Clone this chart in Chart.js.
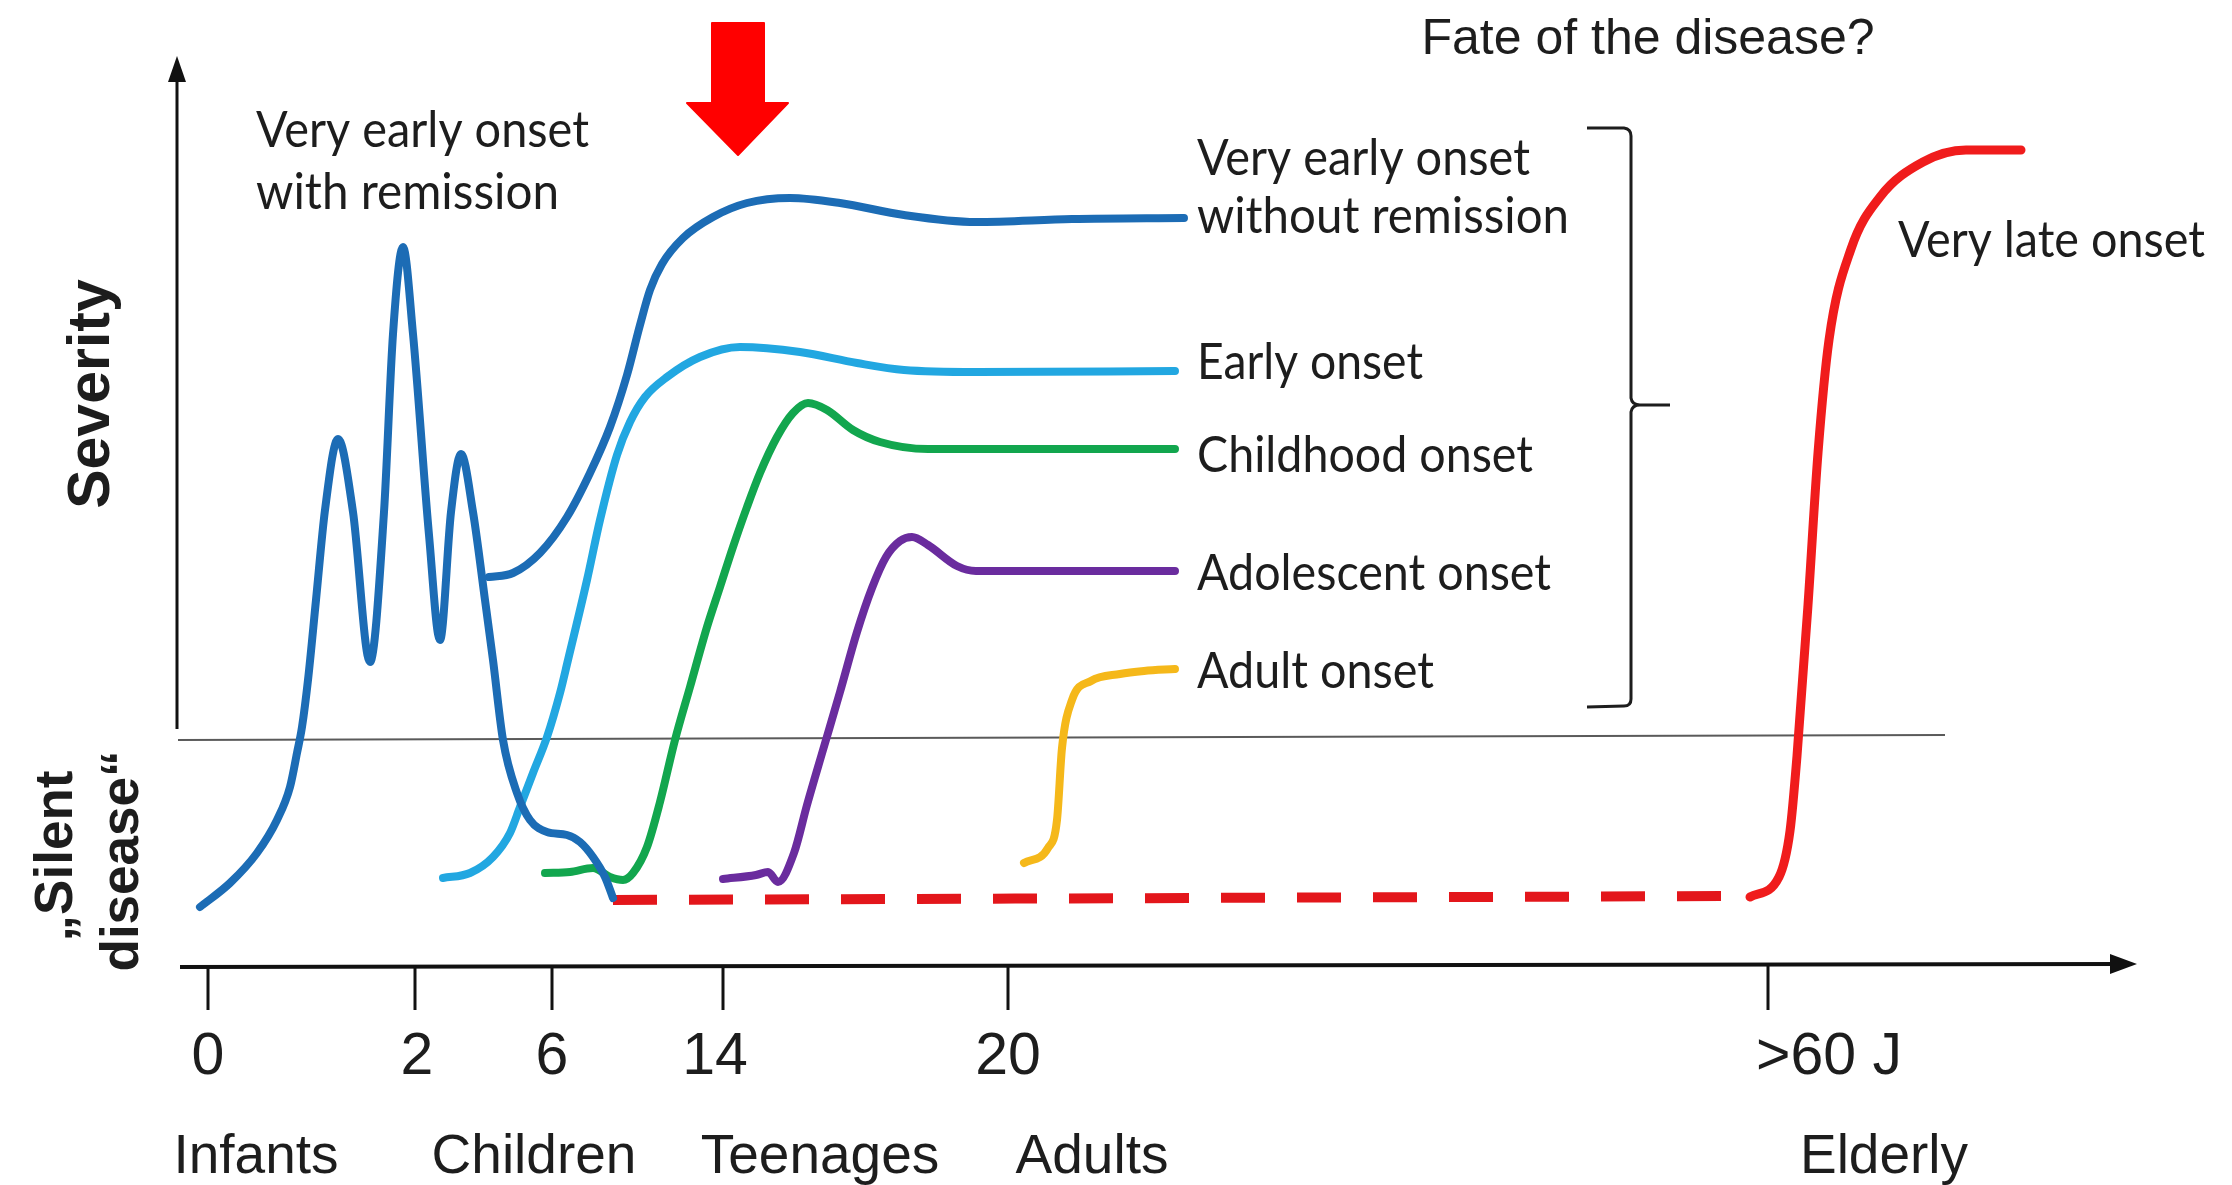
<!DOCTYPE html>
<html>
<head>
<meta charset="utf-8">
<script src="https://cdn.jsdelivr.net/npm/chart.js@4/dist/chart.umd.min.js"></script>
<style>
html,body{margin:0;padding:0;background:#fff;}
#wrap{position:relative;width:2232px;height:1185px;}
</style>
</head>
<body>
<div id="wrap"><canvas id="c"></canvas></div>
<script>
// ---- Data (x: position along the age axis, y: position on the severity scale) ----
const remissionX = [200,230,257,277,290,297,302,308,316,325,338,353,370,384,393,403,413,429,440,451,461,473,485,493,503,517,530,547,567,580,593,605,613];
const remissionY = [907,883,853,820,787,753,727,680,600,510,439,512,662,512,334,247,334,535,640,512,454,512,600,660,740,793,820,832,835,842,857,877,898];

const noRemissionX = [489,513,540,567,590,610,627,640,650,662,683,713,747,790,840,904,976,1072,1184];
const noRemissionY = [577,573,553,517,473,427,375,325,290,264,238,217,203,198,203,215,222,219,218];

const earlyX = [443,470,493,510,520,533,547,560,568,587,600,617,630,645,667,700,740,800,857,904,976,1175];
const earlyY = [878,873,857,833,807,773,737,693,660,580,520,455,422,397,377,357,347,352,363,370,372,371];

const childX = [545,570,593,610,623,633,647,660,675,690,707,720,733,747,760,777,793,808,827,853,880,928,1175];
const childY = [873,872,868,877,880,873,847,802,740,687,627,587,547,507,473,437,413,403,410,430,442,449,449];

const adolX = [723,756,768,778,794,807,823,840,857,872,886,900,912,928,957,976,1175];
const adolY = [879,875,872,882,853,805,750,692,632,588,557,541,537,545,566,571,571];

const adultX = [1024,1048,1057,1062,1072,1091,1120,1144,1175];
const adultY = [863,848,820,748,700,681,674,671,669];

const silentX = [613,1750];
const silentY = [900,896];

const lateX = [1750,1779,1790,1797,1808,1818,1829,1851,1880,1923,1966,2021];
const lateY = [897,877,831,756,605,453,340,249,197,162,150,150];

const tickValues = [208,415,552,723,1008,1768];
const tickLabels = ['0','2','6','14','20','>60 J'];
const tickLabelPos = [208,417,552,715,1008,1829];
const groupLabels = ['Infants','Children','Teenages','Adults','Elderly'];
const groupPos = [256,534,820,1092,1884];
const seriesNames = ['Very early onset\nwith remission','Very early onset\nwithout remission','Early onset','Childhood onset','Adolescent onset','Adult onset','Very late onset'];

function pts(xs, ys){ return xs.map((x,i)=>({x:x, y:ys[i]})); }

function ds(label, xs, ys, color, width, dash){
  return {
    label: label,
    data: pts(xs, ys),
    borderColor: color,
    borderWidth: width,
    borderDash: dash || [],
    pointRadius: 0,
    fill: false,
    cubicInterpolationMode: 'monotone',
    borderCapStyle: dash ? 'butt' : 'round',
    borderJoinStyle: 'round'
  };
}

const datasets = [
  ds(seriesNames[0], remissionX, remissionY, '#1c6cb5', 8),
  ds(seriesNames[1], noRemissionX, noRemissionY, '#1c6cb5', 8),
  ds(seriesNames[2], earlyX, earlyY, '#22a7e1', 8),
  ds(seriesNames[3], childX, childY, '#12a64e', 8),
  ds(seriesNames[4], adolX, adolY, '#6a2c9e', 8),
  ds(seriesNames[5], adultX, adultY, '#f5b81a', 8),
  ds('Silent phase', silentX, silentY, '#e3161b', 10, [44,32]),
  ds(seriesNames[6], lateX, lateY, '#f01c1c', 9)
];

const TEXT = '#1d1d1d';
const ARIAL = '"Liberation Sans", Arial, sans-serif';
const CAL = 'Lato, "Open Sans", sans-serif';

function fitText(ctx, text, x, y, font, width){
  ctx.save();
  ctx.font = font;
  const w = ctx.measureText(text).width;
  const s = width ? width / w : 1;
  ctx.translate(x, y);
  ctx.scale(s, 1);
  ctx.textAlign = 'left';
  ctx.textBaseline = 'alphabetic';
  ctx.fillText(text, 0, 0);
  ctx.restore();
}

const overlay = {
  id: 'overlay',
  beforeDatasetsDraw(chart){
    const ctx = chart.ctx, X = v => chart.scales.x.getPixelForValue(v), Y = v => chart.scales.y.getPixelForValue(v);
    ctx.save();
    // thin threshold line between "silent disease" and severity
    ctx.strokeStyle = '#5a5a5a'; ctx.lineWidth = 2;
    ctx.beginPath(); ctx.moveTo(X(178), Y(740)); ctx.lineTo(X(1945), Y(735)); ctx.stroke();
    // y axis
    ctx.strokeStyle = '#111'; ctx.fillStyle = '#111'; ctx.lineWidth = 3;
    ctx.beginPath(); ctx.moveTo(X(177), Y(729)); ctx.lineTo(X(177), Y(76)); ctx.stroke();
    ctx.beginPath(); ctx.moveTo(X(177), Y(56)); ctx.lineTo(X(168), Y(82)); ctx.lineTo(X(186), Y(82)); ctx.closePath(); ctx.fill();
    // x axis
    ctx.lineWidth = 4;
    ctx.beginPath(); ctx.moveTo(X(180), Y(967)); ctx.lineTo(X(2118), Y(964)); ctx.stroke();
    ctx.beginPath(); ctx.moveTo(X(2137), Y(964)); ctx.lineTo(X(2110), Y(954)); ctx.lineTo(X(2110), Y(974)); ctx.closePath(); ctx.fill();
    // ticks
    ctx.lineWidth = 3;
    tickValues.forEach(v => { ctx.beginPath(); ctx.moveTo(X(v), Y(966)); ctx.lineTo(X(v), Y(1010)); ctx.stroke(); });
    ctx.restore();
  },
  afterDatasetsDraw(chart){
    const ctx = chart.ctx, X = v => chart.scales.x.getPixelForValue(v), Y = v => chart.scales.y.getPixelForValue(v);
    ctx.save();
    ctx.fillStyle = TEXT;
    // tick labels
    ctx.font = '59px ' + ARIAL; ctx.textAlign = 'center'; ctx.textBaseline = 'alphabetic';
    tickLabels.forEach((t,i) => ctx.fillText(t, X(tickLabelPos[i]), Y(1074)));
    // group labels
    ctx.font = '55px ' + ARIAL;
    groupLabels.forEach((t,i) => ctx.fillText(t, X(groupPos[i]), Y(1173)));
    // title
    ctx.font = '50px ' + ARIAL;
    ctx.fillText('Fate of the disease?', X(1648), Y(54));
    // series labels
    const f = '50px ' + CAL;
    fitText(ctx, 'Very early onset', X(256), Y(147), f, 333);
    fitText(ctx, 'with remission', X(256), Y(209), f, 303);
    fitText(ctx, 'Very early onset', X(1197), Y(175), f, 333);
    fitText(ctx, 'without remission', X(1197), Y(233), f, 372);
    fitText(ctx, 'Early onset', X(1197), Y(379), f, 226);
    fitText(ctx, 'Childhood onset', X(1197), Y(472), f, 336);
    fitText(ctx, 'Adolescent onset', X(1197), Y(590), f, 354);
    fitText(ctx, 'Adult onset', X(1197), Y(688), f, 237);
    fitText(ctx, 'Very late onset', X(1898), Y(257), f, 307);
    // rotated axis titles
    ctx.textAlign = 'center';
    ctx.save(); ctx.translate(X(109), Y(394)); ctx.rotate(-Math.PI/2);
    ctx.font = 'bold 59px ' + ARIAL; ctx.fillText('Severity', 0, 0); ctx.restore();
    ctx.save(); ctx.translate(X(72), Y(856)); ctx.rotate(-Math.PI/2);
    ctx.font = 'bold 53px ' + ARIAL; ctx.fillText('\u201ESilent', 0, 0); ctx.restore();
    ctx.save(); ctx.translate(X(138), Y(861)); ctx.rotate(-Math.PI/2);
    ctx.font = 'bold 53px ' + ARIAL; ctx.fillText('disease\u201C', 0, 0); ctx.restore();
    // bracket
    ctx.strokeStyle = '#1d1d1d'; ctx.lineWidth = 3; ctx.lineJoin = 'round';
    ctx.beginPath();
    ctx.moveTo(X(1587), Y(128)); ctx.lineTo(X(1624), Y(128));
    ctx.quadraticCurveTo(X(1631), Y(129), X(1631), Y(136));
    ctx.lineTo(X(1631), Y(398));
    ctx.quadraticCurveTo(X(1632), Y(405), X(1640), Y(405));
    ctx.moveTo(X(1670), Y(405)); ctx.lineTo(X(1640), Y(405));
    ctx.quadraticCurveTo(X(1632), Y(405), X(1631), Y(412));
    ctx.lineTo(X(1631), Y(699));
    ctx.quadraticCurveTo(X(1631), Y(706), X(1624), Y(706));
    ctx.lineTo(X(1587), Y(707));
    ctx.stroke();
    // red arrow
    ctx.fillStyle = '#ff0000'; ctx.lineJoin = 'round'; ctx.strokeStyle = '#ff0000'; ctx.lineWidth = 2;
    ctx.beginPath();
    ctx.moveTo(X(712), Y(23)); ctx.lineTo(X(764), Y(23)); ctx.lineTo(X(764), Y(103));
    ctx.lineTo(X(788), Y(103)); ctx.lineTo(X(738), Y(155)); ctx.lineTo(X(687), Y(103));
    ctx.lineTo(X(712), Y(103)); ctx.closePath(); ctx.fill(); ctx.stroke();
    ctx.restore();
  }
};

new Chart(document.getElementById('c'), {
  type: 'line',
  data: { datasets: datasets },
  options: {
    responsive: true,
    maintainAspectRatio: false,
    animation: false,
    layout: { padding: 0 },
    plugins: { legend: { display: false }, tooltip: { enabled: false } },
    scales: {
      x: { type: 'linear', min: 0, max: 2232, display: false },
      y: { type: 'linear', min: 0, max: 1185, reverse: true, display: false }
    }
  },
  plugins: [overlay]
});
</script>
</body>
</html>
